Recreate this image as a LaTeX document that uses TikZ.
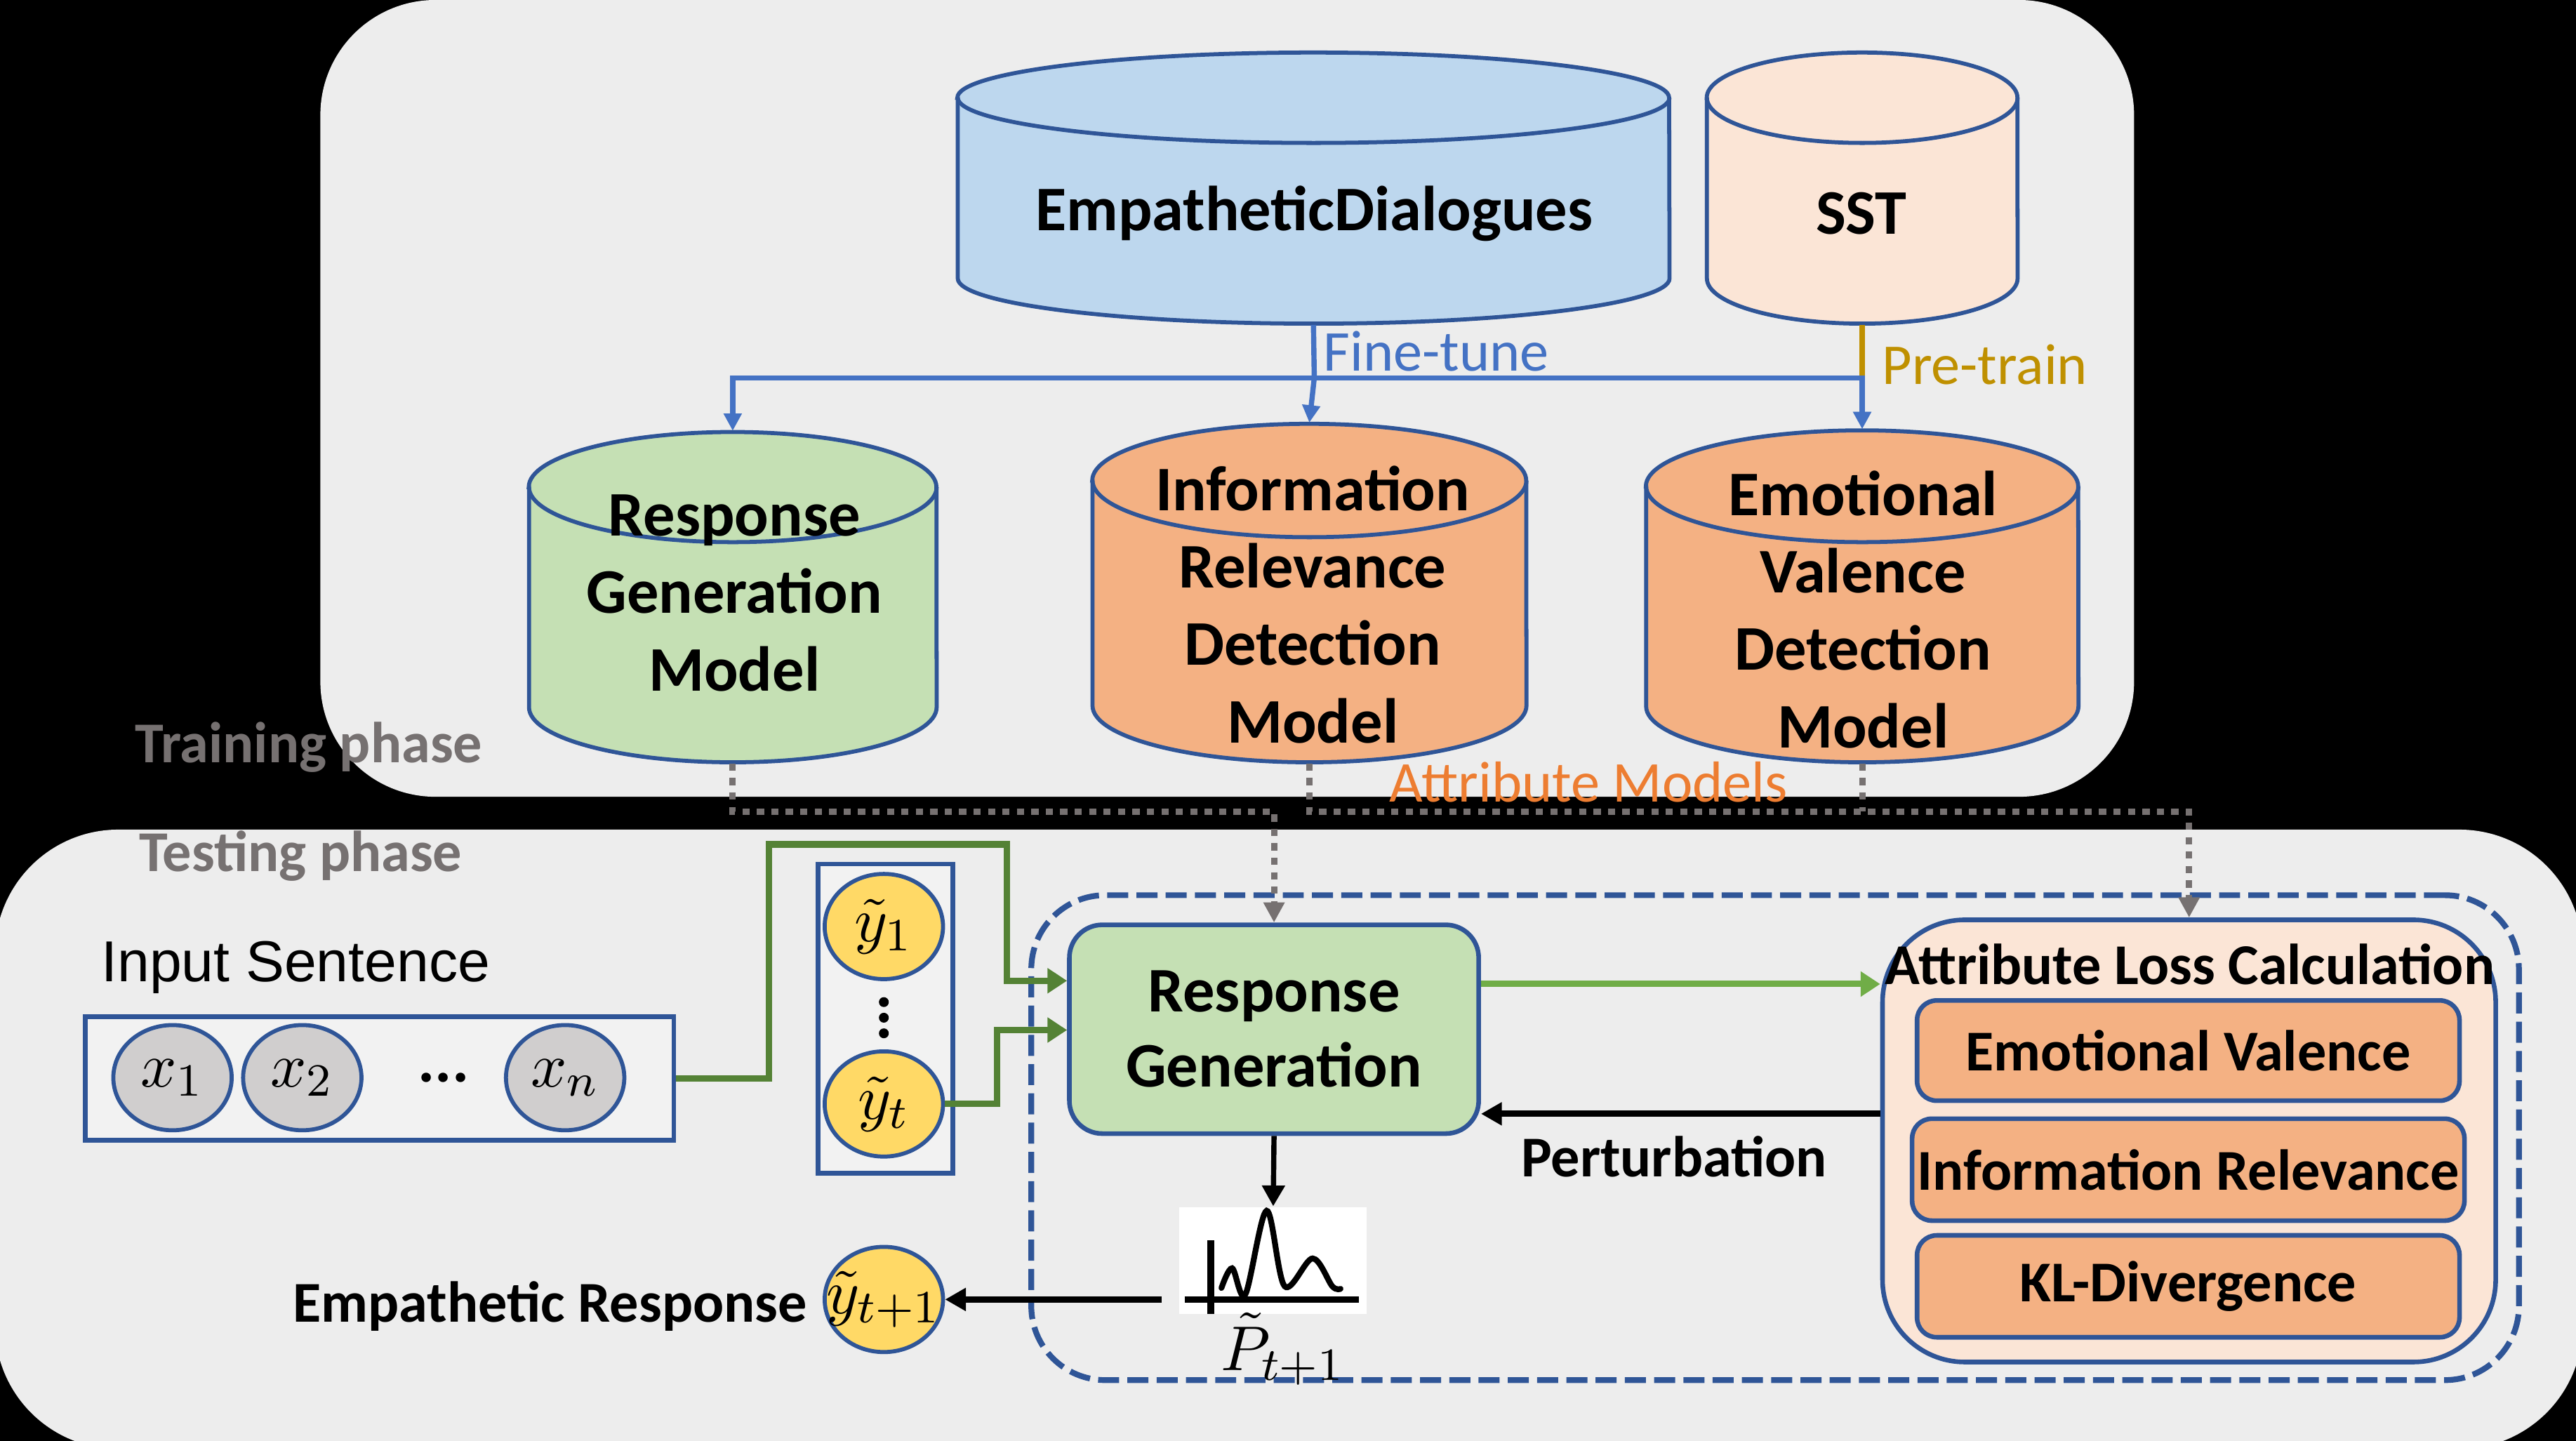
\documentclass[tikz,border=0pt]{standalone}
\usepackage{fontspec}
\setmainfont{Carlito}
\newfontfamily\arialf{Liberation Sans}
\usetikzlibrary{arrows.meta,shapes.geometric}
\definecolor{panel}{RGB}{237,237,237}
\definecolor{bord}{HTML}{2F5597}
\definecolor{edfill}{HTML}{BDD7EE}
\definecolor{sstfill}{HTML}{FBE5D6}
\definecolor{gfill}{HTML}{C5E0B4}
\definecolor{ofill}{HTML}{F4B183}
\definecolor{ftblue}{HTML}{4472C4}
\definecolor{ptgold}{HTML}{BF9000}
\definecolor{amorange}{HTML}{ED7D31}
\definecolor{phgray}{HTML}{767171}
\definecolor{dgreen}{HTML}{548235}
\definecolor{lgreen}{HTML}{70AD47}
\definecolor{yfill}{HTML}{FFD966}
\definecolor{xfill}{HTML}{D0CECE}
\definecolor{boxfill}{HTML}{F2F2F2}
% #1 name, #2 x1, #3 x2, #4 ytop, #5 ybot, #6 ry, #7 fill
\newcommand{\mycyl}[7]{%
  \pgfmathsetmacro{\cylrx}{(#3-#2)/200}%
  \pgfmathsetmacro{\cylry}{#6/100}%
  \pgfmathsetmacro{\cylw}{(#3-#2)/100}%
  \pgfmathsetmacro{\cylh}{(#5-#4)/100}%
  \filldraw[cylline,fill=#7] (#2,#4+#6) -- (#2,#5-#6)
     arc[start angle=180,end angle=360,x radius=\cylrx cm,y radius=\cylry cm]
     -- (#3,#4+#6)
     arc[start angle=0,end angle=180,x radius=\cylrx cm,y radius=\cylry cm] -- cycle;
  \draw[cylline] (#2,#4+#6) arc[start angle=180,end angle=360,x radius=\cylrx cm,y radius=\cylry cm];
  \node[inner sep=0,minimum width=\cylw cm,minimum height=\cylh cm] (#1) at ({(#2+#3)/2},{(#4+#5)/2}) {};
}
\begin{document}
\begin{tikzpicture}[x=0.01cm,y=-0.01cm,
  cylline/.style={draw=bord,line width=0.7pt},
  bigt/.style={font=\fontsize{11}{13.4}\selectfont\bfseries,align=center,inner sep=0},
  medt/.style={font=\fontsize{10}{12}\selectfont\bfseries,inner sep=0},
  regt/.style={font=\fontsize{10}{12}\selectfont,inner sep=0},
  mathnode/.style={ellipse,draw=bord,line width=0.7pt,minimum width=0.72cm,minimum height=0.64cm,inner sep=0,font=\fontsize{11}{13}\selectfont},
  ibox/.style={draw=bord,fill=ofill,line width=0.8pt,rounded corners=0.12cm,inner sep=0,font=\fontsize{10}{12}\selectfont\bfseries},
  ft/.style={draw=ftblue,line width=0.9pt},
  tipft/.style={-{Triangle[length=3pt,width=3pt]}},
  dotl/.style={draw=phgray,line width=1.1pt,dash pattern=on 1.25pt off 1.25pt},
  tipdot/.style={-{Triangle[length=3.5pt,width=3.5pt]}},
  gline/.style={draw=dgreen,line width=1.1pt},
  tipg/.style={-{Triangle[length=3.4pt,width=4.2pt]}},
  blk/.style={draw=black,line width=1.1pt},
  tipb/.style={-{Triangle[length=3.6pt,width=3.8pt]}}
]
\useasboundingbox (0,0) rectangle (1568,877);
\clip (0,0) rectangle (1568,877);
\fill[black] (0,0) rectangle (1568,877);
% panels
\fill[panel,rounded corners=0.7cm] (195,0) rectangle (1299,485);
\fill[panel,rounded corners=0.75cm] (-3,505) rectangle (1572,882);

% cylinders
\mycyl{ed}{583}{1016}{32}{197}{27.5}{edfill}
\mycyl{sst}{1039}{1228}{32}{197}{27.5}{sstfill}
\mycyl{rgm}{322}{570}{263}{464}{33.5}{gfill}
\mycyl{ir}{665}{929}{258}{464}{34.5}{ofill}
\mycyl{ev}{1002}{1265}{262}{464}{34}{ofill}

\node[bigt] (edt) at (800,130) {EmpatheticDialogues};
\node[bigt] (sstt) at (1133,130) {SST};
\node[bigt] (rgmt) at (447,361) {Response\\Generation\\Model};
\node[bigt] (irt) at (799,368) {Information\\Relevance\\Detection\\Model};
\node[bigt] (evt) at (1134,371) {Emotional\\Valence\\Detection\\Model};

% fine-tune / pre-train
\coordinate (j) at (800,230);
\draw[ft] (ed.south) -- (j);
\draw[draw=ptgold,line width=0.9pt] (sst.south) -- (sst.south |- j);
\draw[ft,tipft] (j) -| (rgm.north);
\draw[ft,tipft] (j) -| (ev.north);
\draw[ft,tipft] (j) -- (ir.north);
\node[regt,text=ftblue,anchor=west] (ftl) at (805,214) {Fine-tune};
\node[regt,text=ptgold,anchor=west] (ptl) at (1145,222) {Pre-train};

% phase labels
\node[medt,text=phgray] (trph) at (188,455) {Training phase};
\node[medt,text=phgray] (teph) at (183,521) {Testing phase};
\node[regt,text=amorange] (aml) at (967,476) {Attribute Models};

% testing part boxes
\node[draw=bord,line width=1pt,dash pattern=on 0.128cm off 0.05cm,rounded corners=0.45cm,
      minimum width=9.05cm,minimum height=2.95cm,inner sep=0] (tbox) at (1080.5,692.5) {};

\node[draw=bord,fill=gfill,line width=0.8pt,rounded corners=0.2cm,minimum width=2.49cm,minimum height=1.27cm,
      bigt,font=\fontsize{11}{13}\selectfont\bfseries] (rg) at (775.5,626.5) {Response\\Generation};

\node[draw=bord,fill=sstfill,line width=0.8pt,rounded corners=0.5cm,minimum width=3.73cm,minimum height=2.69cm,inner sep=0] (alc) at (1332.5,694.5) {};
\node[medt] (alct) at (1333,587) {Attribute Loss Calculation};
\node[ibox,minimum width=3.30cm,minimum height=0.61cm] (aev) at (1332,639.5) {Emotional Valence};
\node[ibox,minimum width=3.36cm,minimum height=0.62cm] (air) at (1332,712) {Information Relevance};
\node[ibox,minimum width=3.30cm,minimum height=0.62cm] (akl) at (1332,783) {KL-Divergence};

% input sentence
\node[regt,font=\arialf\fontsize{10}{12}\selectfont] (ist) at (180,589) {Input Sentence};
\node[draw=bord,fill=boxfill,line width=0.8pt,minimum width=3.58cm,minimum height=0.75cm,inner sep=0] (inbox) at (231,656.5) {};
\node[mathnode,fill=xfill] (x1) at (105,656) {$x_1$};
\node[mathnode,fill=xfill] (x2) at (184,656) {$x_2$};
\node[mathnode,fill=xfill] (xn) at (344,656) {$x_n$};
\node[bigt] (xdots) at (270,656) {...};

% y column
\node[draw=bord,fill=boxfill,line width=0.8pt,minimum width=0.82cm,minimum height=1.88cm,inner sep=0] (ycol) at (539,620) {};
\node[mathnode,fill=yfill] (y1) at (538,564) {$\tilde{y}_1$};
\node[mathnode,fill=yfill] (yt) at (538,672) {$\tilde{y}_t$};
\fill (538,610) circle[radius=0.03cm];
\fill (538,619.5) circle[radius=0.03cm];
\fill (538,629) circle[radius=0.03cm];
\node[mathnode,fill=yfill] (ytp) at (538,791) {\makebox[0pt]{$\tilde{y}_{t+1}$}};
\node[medt,anchor=east] (erl) at (492,795) {Empathetic Response};

% chart icon
\node[fill=white,minimum width=1.14cm,minimum height=0.65cm,inner sep=0] (chart) at (775,767.5) {};
\draw[line width=1.1pt] (737,755) -- (737,800);
\draw[line width=1.1pt] (721,791) -- (827,791);
\draw[line width=1pt,line cap=round] plot[smooth,tension=0.55] coordinates
  {(743.5,784) (750,772) (758,788) (771,737) (782,783) (799,766) (811,783) (816,784.5)};
\node[font=\fontsize{11}{13}\selectfont,inner sep=0] (ptl2) at (781,821) {$\tilde{P}_{t+1}$};

% dotted connectors
\coordinate (d1) at (775.5,494);
\coordinate (d2) at (1332.5,494);
\draw[dotl,tipdot] (rgm.south) |- (d1) -- (rg.north);
\draw[dotl,tipdot] (ir.south) |- (d2) -- (alc.north);
\draw[dotl] (ev.south) -- (ev.south |- d2);

% green connectors
\coordinate (g1) at (468,514);
\coordinate (g2) at (613,597);
\coordinate (g3) at (607,627);
\draw[gline,tipg] (inbox.east) -| (g1) -| (g2) -- (rg.west |- g2);
\draw[gline,tipg] (yt.east) -| (g3) -- (rg.west |- g3);
\coordinate (g4) at (900,599);
\draw[draw=lgreen,line width=1.1pt,tipg] (rg.east |- g4) -- (alc.west |- g4);

% perturbation
\coordinate (p1) at (1146,678);
\draw[blk,tipb] (alc.west |- p1) -- (rg.east |- p1);
\node[medt] (pert) at (1019,704) {Perturbation};

% output
\draw[draw=black,line width=0.9pt,tipb] (rg.south) -- (chart.north);
\coordinate (c1) at (707,791);
\draw[blk,tipb] (c1) -- (ytp.east);
\end{tikzpicture}
\end{document}
